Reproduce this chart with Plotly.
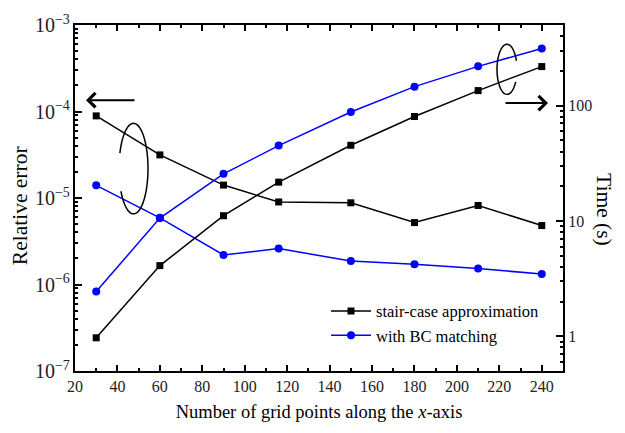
import numpy as np
import plotly.graph_objects as go

# ---------------- data ----------------
grid_points = [30, 60, 90, 116, 150, 180, 210, 240]
err_stair = [8.9e-5, 3.15e-5, 1.41e-5, 9.0e-6, 8.8e-6, 5.2e-6, 8.2e-6, 4.8e-6]
err_bc = [1.40e-5, 5.9e-6, 2.2e-6, 2.6e-6, 1.87e-6, 1.71e-6, 1.53e-6, 1.32e-6]
time_stair = [0.97, 4.1, 11.1, 21.7, 45.3, 80.5, 135, 218]
time_bc = [2.44, 10.6, 25.6, 45, 88, 146, 219, 313]

series_names = ["stair-case approximation", "with BC matching"]
colors = ["#000000", "#0000ff"]
symbols = ["square", "circle"]
time_ticks = [1, 10, 100]

W, H = 625, 433
L, R, T, B = 75, 62, 12, 62
PW, PH = W - L - R, H - T - B


def px(x):
    return (x - L) / PW


def py(y):
    return (H - B - y) / PH


FONT = "Liberation Serif"

fig = go.Figure()
for i, (err, tm) in enumerate([(err_stair, time_stair), (err_bc, time_bc)]):
    fig.add_trace(go.Scatter(
        x=grid_points, y=err, mode="lines+markers", name=series_names[i],
        line=dict(color=colors[i], width=1.5),
        marker=dict(symbol=symbols[i], size=8 if i else 7, color=colors[i]),
        showlegend=True, yaxis="y"))
    fig.add_trace(go.Scatter(
        x=grid_points, y=tm, mode="lines+markers", name=series_names[i],
        line=dict(color=colors[i], width=1.5),
        marker=dict(symbol=symbols[i], size=8 if i else 7, color=colors[i]),
        showlegend=False, yaxis="y2"))

axis_common = dict(showline=True, linecolor="black", linewidth=2, ticks="inside",
                   tickcolor="black", tickwidth=1.5, showgrid=False, zeroline=False,
                   tickfont=dict(family=FONT, size=16, color="#222"))

fig.update_layout(
    width=W, height=H,
    margin=dict(l=L, r=R, t=T, b=B),
    paper_bgcolor="white", plot_bgcolor="white",
    font=dict(family=FONT, color="black", size=16),
    xaxis=dict(range=[20, 250], dtick=20, tick0=20, ticklen=6, mirror="ticks",
               minor=dict(dtick=10, ticks="inside", ticklen=3, tickcolor="black"),
               title=dict(text="Number of grid points along the <i>x</i>-axis",
                          font=dict(family=FONT, size=18.5, color="black"), standoff=11),
               **axis_common),
    yaxis=dict(type="log", range=[-7, -3], dtick=1, exponentformat="power", ticklen=7,
               minor=dict(dtick="D1", ticks="inside", ticklen=3, tickcolor="black"),
               **axis_common),
    yaxis2=dict(type="log", range=[np.log10(0.5), np.log10(500)], overlaying="y", side="right",
                tickvals=time_ticks,
                ticktext=[f"<span style='font-family:Liberation Serif'>{v}</span>" for v in time_ticks],
                ticklen=7,
                minor=dict(dtick="D1", ticks="inside", ticklen=3, tickcolor="black"),
                **axis_common),
    legend=dict(x=px(326), y=py(352), xanchor="left", yanchor="bottom",
                bgcolor="rgba(0,0,0,0)", font=dict(family=FONT, size=16.5, color="black"),
                tracegroupgap=0, itemwidth=40),
    showlegend=True,
)

# left-axis title
fig.add_annotation(xref="paper", yref="paper", x=px(20), y=py(200), text="Relative error",
                   textangle=-90, showarrow=False, xanchor="center", yanchor="middle",
                   font=dict(family=FONT, size=21.5, color="black"))
# right-axis title (reads top to bottom)
fig.add_annotation(xref="paper", yref="paper", x=px(604), y=py(203), text="Time (s)",
                   textangle=90, showarrow=False, xanchor="center", yanchor="middle",
                   font=dict(family=FONT, size=21.5, color="black"))

# arrows
fig.add_annotation(xref="paper", yref="paper", x=px(86), y=py(90), ax=50, ay=0,
                   text="", showarrow=True, arrowhead=4, arrowsize=1.4, arrowwidth=2,
                   arrowcolor="black")
fig.add_annotation(xref="paper", yref="paper", x=px(548), y=py(93), ax=-44, ay=0,
                   text="", showarrow=True, arrowhead=4, arrowsize=1.4, arrowwidth=2,
                   arrowcolor="black")


def ellipse_path(cx, cy, rx, ry, a0, a1, n=60):
    th = np.radians(np.linspace(a0, a1, n))
    xs = cx + rx * np.cos(th)
    ys = cy + ry * np.sin(th)
    pts = [f"{px(x):.5f},{py(y):.5f}" for x, y in zip(xs, ys)]
    return "M" + " L".join(pts)


fig.add_shape(type="path", xref="paper", yref="paper",
              path=ellipse_path(133.5, 161, 14.5, 47, 200, 510),
              line=dict(color="black", width=1.5))
fig.add_shape(type="path", xref="paper", yref="paper",
              path=ellipse_path(507, 58, 10, 26, 30, 340),
              line=dict(color="black", width=1.5))

fig.write_html("out.html")
